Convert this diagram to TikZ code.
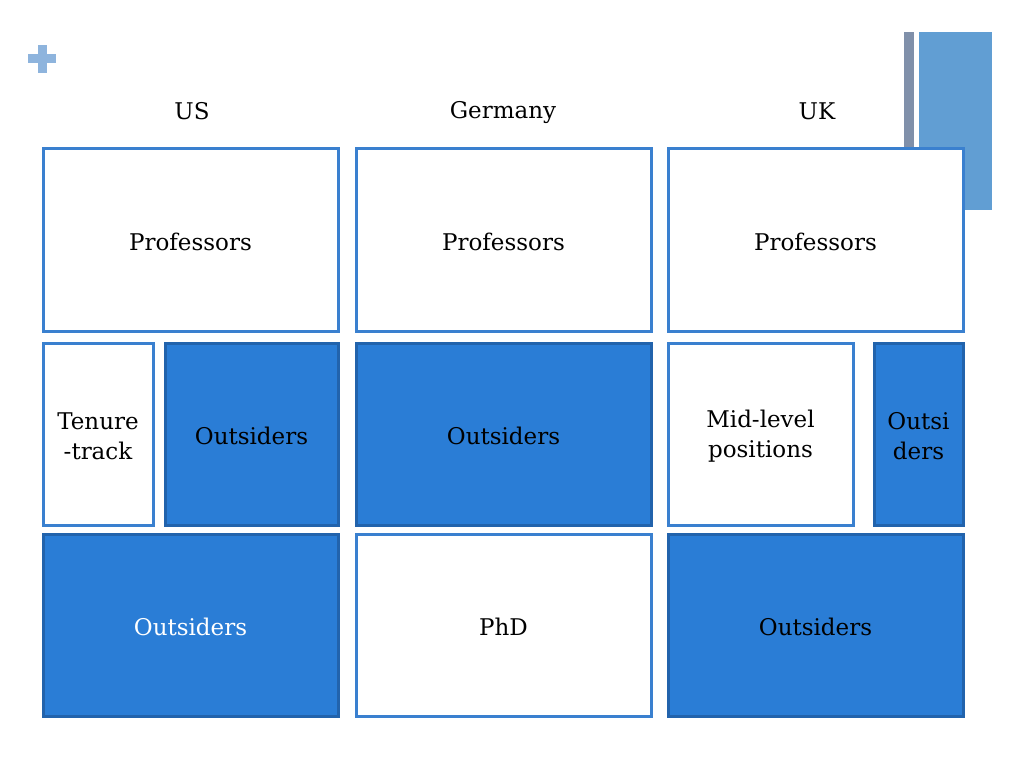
\documentclass[tikz,border=0pt]{standalone}
\usepackage{fontspec}
\setmainfont{DejaVu Serif}
\definecolor{boxline}{HTML}{3A80CF}
\definecolor{boxfill}{HTML}{2A7DD6}
\definecolor{fillline}{HTML}{2263AC}
\definecolor{plusblue}{HTML}{8EB4DD}
\definecolor{barblue}{HTML}{619ED3}
\definecolor{bargray}{HTML}{8090AA}
\tikzset{
  x=1pt,y=-1pt,
  every node/.style={font=\fontsize{23}{30}\selectfont, align=center, inner sep=0pt},
  whitebox/.style={draw=boxline, line width=3pt, fill=white},
  bluebox/.style={draw=fillline, line width=3pt, fill=boxfill},
  head/.style={font=\fontsize{23}{27}\selectfont},
  lbl/.style={yshift=-2pt}
}
\newcommand{\boxat}[6]{% name, style, x1, y1, x2, y2
  \node[#2, minimum width={#5-#3}, minimum height={#6-#4}] (#1) at ({(#3+#5)/2},{(#4+#6)/2}) {};}
\begin{document}
\begin{tikzpicture}
\useasboundingbox (0,0) rectangle (1024,767);
% decorations
\fill[plusblue] (28,54.5) rectangle (56,63.5);
\fill[plusblue] (37.5,45) rectangle (46.5,73);
\fill[bargray] (904,32) rectangle (914,150);
\fill[barblue] (919,32) rectangle (992,210);
% headers
\node[head] (hus) at (192,111) {US};
\node[head] (hde) at (503,113) {Germany};
\node[head] (huk) at (817,111) {UK};
% row 1
\boxat{usprof}{whitebox}{43}{149}{338}{331}
\boxat{deprof}{whitebox}{356}{149}{651}{331}
\boxat{ukprof}{whitebox}{668}{149}{963}{331}
% row 2
\boxat{ustt}{whitebox}{43}{343}{153}{525}
\boxat{usout}{bluebox}{165}{343}{338}{525}
\boxat{deout}{bluebox}{356}{343}{651}{525}
\boxat{ukmid}{whitebox}{668}{343}{853}{525}
\boxat{ukout}{bluebox}{874}{343}{963}{525}
% row 3
\boxat{usout2}{bluebox}{43}{534}{338}{716}
\boxat{dephd}{whitebox}{356}{534}{651}{716}
\boxat{ukout2}{bluebox}{668}{534}{963}{716}
% labels
\node[lbl] at (usprof) {Professors};
\node[lbl] at (deprof) {Professors};
\node[lbl] at (ukprof) {Professors};
\node[lbl] at (ustt) {Tenure\\-track};
\node[lbl] at (usout) {Outsiders};
\node[lbl] at (deout) {Outsiders};
\node[lbl] at (ukmid) {Mid-level\\positions};
\node[lbl] at (ukout) {Outsi\\ders};
\node[lbl, text=white] at (usout2) {Outsiders};
\node[lbl] at (dephd) {PhD};
\node[lbl] at (ukout2) {Outsiders};
\end{tikzpicture}
\end{document}
